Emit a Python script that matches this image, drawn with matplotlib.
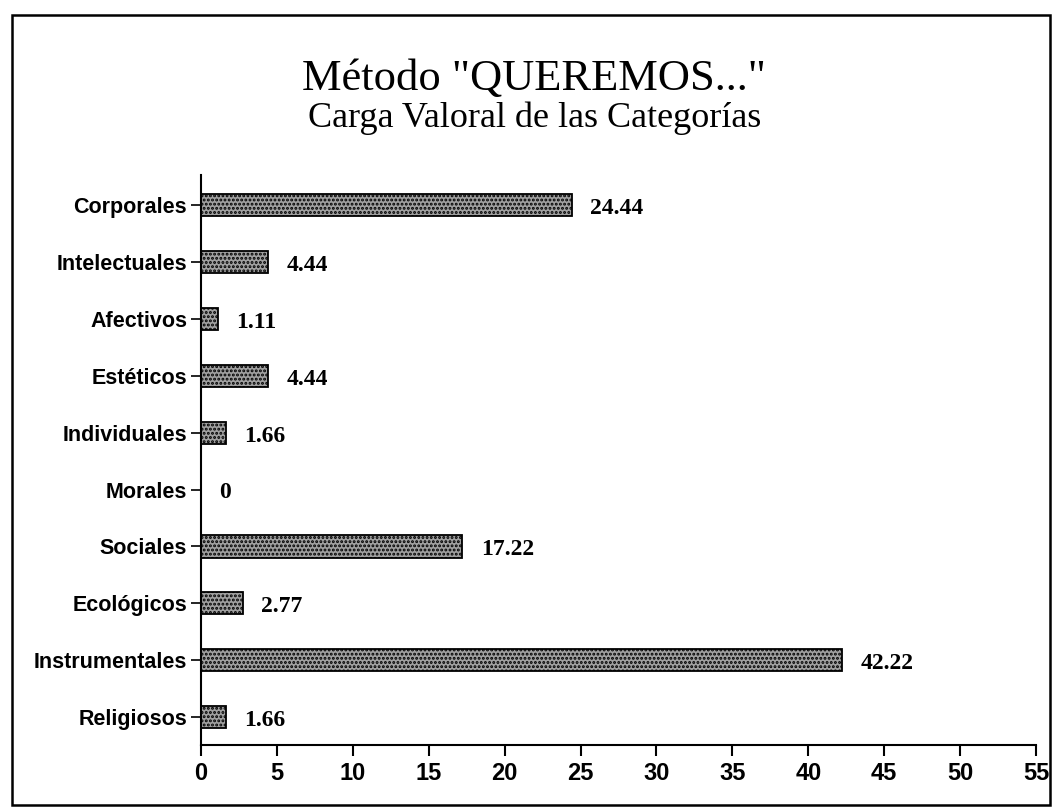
import matplotlib.pyplot as plt
from matplotlib.patches import Rectangle
import numpy as np

categorias = ["Corporales", "Intelectuales", "Afectivos", "Estéticos", "Individuales",
              "Morales", "Sociales", "Ecológicos", "Instrumentales", "Religiosos"]
valores = [24.44, 4.44, 1.11, 4.44, 1.66, 0, 17.22, 2.77, 42.22, 1.66]
etiquetas = ["24.44", "4.44", "1.11", "4.44", "1.66", "0", "17.22", "2.77", "42.22", "1.66"]
xticks = [0, 5, 10, 15, 20, 25, 30, 35, 40, 45, 50, 55]

plt.rcParams['hatch.linewidth'] = 1.4

fig = plt.figure(figsize=(10.53, 8.10), dpi=100)
ax = fig.add_axes([0.1909, 0.0802, 0.7930, 0.7038])

# bottom category first
pos = np.arange(len(categorias))[::-1]
ax.barh(pos, valores, height=0.39, color='#a0a0a0', edgecolor='black',
        hatch='....', linewidth=1.3)

for p, v, t in zip(pos, valores, etiquetas):
    ax.text(v + 1.2, p - 0.06, t, va='center', ha='left',
            family='Liberation Serif', weight='bold', fontsize=17)

ax.set_xlim(0, 55)
ax.set_ylim(-0.49, 9.53)
ax.set_xticks(xticks)
ax.set_xticklabels([str(x) for x in xticks], family='Liberation Sans',
                   weight='bold', fontsize=17)
ax.set_yticks(pos)
ax.set_yticklabels(categorias, family='Liberation Sans', weight='bold', fontsize=15.5)
ax.tick_params(axis='x', direction='out', length=8, width=1.5, pad=4)
ax.tick_params(axis='y', direction='out', length=7, width=1.2, pad=3)

ax.spines['top'].set_visible(False)
ax.spines['right'].set_visible(False)
ax.spines['left'].set_linewidth(1.5)
ax.spines['bottom'].set_linewidth(1.5)

fig.text(0.507, 0.889, 'Método "QUEREMOS..."', ha='center', va='baseline',
         family='Liberation Serif', fontsize=32)
fig.text(0.508, 0.843, 'Carga Valoral de las Categorías', ha='center', va='baseline',
         family='Liberation Serif', fontsize=26)

# frame around the whole chart
fig.patches.append(Rectangle((0.011, 0.006), 0.986, 0.976, transform=fig.transFigure,
                             fill=False, edgecolor='black', linewidth=1.8))

plt.savefig('out.png', dpi=100)
